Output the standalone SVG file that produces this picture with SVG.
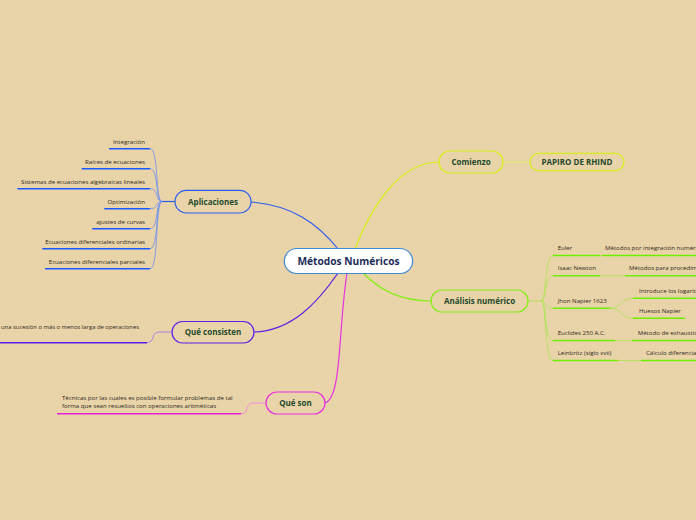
<svg xmlns="http://www.w3.org/2000/svg" width="696" height="520" viewBox="0 0 696 520">
<style>
.nt{font-family:"Open Sans","Noto Sans","Liberation Sans",sans-serif;font-weight:bold;font-size:8px;fill:#1f4a2c;text-anchor:middle}
.ct{font-family:"Open Sans","Noto Sans","Liberation Sans",sans-serif;font-weight:bold;font-size:10.2px;fill:#1c2c58;text-anchor:middle}
.lt{font-family:"Open Sans","Noto Sans","Liberation Sans",sans-serif;font-size:6.1px;fill:#2d2a24}
.r{text-anchor:end}
.fc{fill:none}
.bl{stroke:#2a5cf0;stroke-width:1.2}
.blt{stroke:#6d8ef0;stroke-width:0.8}
.blu{stroke:#1c58ff;stroke-width:1.5}
.pu{stroke:#5a22e6}
.mg{stroke:#e632de}
.ye{stroke:#d6ef1c}
.gr{stroke:#84ee18}
.grt{stroke:#a8e650;stroke-width:0.8}
.gru{stroke:#6fef00;stroke-width:1.5}
</style>
<rect x="0" y="0" width="696" height="520" fill="#E9D3A8"/>
<g id="connectors" class="fc">
<path class="bl" d="M251,202 C292,205 318,224 338,249"/>
<path class="ye" stroke-width="1.2" d="M355,249 C372,205 400,162 439,162"/>
<path class="gr" stroke-width="1.2" d="M363,273 C380,290 400,301 431,301"/>
<path class="pu" stroke-width="1.2" d="M338,273 C318,302 292,331 254,332"/>
<path class="mg" stroke-width="1.2" d="M347,273 C338,330 342,398 325,403"/>
<path stroke="#e3ef6a" stroke-width="1" d="M503,162 H530"/>
<path class="bl" stroke-width="2" d="M162,201.5 H175"/>
<path class="blt" d="M150,148.7 C159,148.7 155,201.5 162,201.5"/>
<path class="blt" d="M150,168.7 C159,168.7 155,201.5 162,201.5"/>
<path class="blt" d="M150,188.7 C159,188.7 155,201.5 162,201.5"/>
<path class="blt" d="M150,208.7 C159,208.7 155,201.5 162,201.5"/>
<path class="blt" d="M150,228.7 C159,228.7 155,201.5 162,201.5"/>
<path class="blt" d="M150,248.7 C159,248.7 155,201.5 162,201.5"/>
<path class="blt" d="M150,268.7 C159,268.7 155,201.5 162,201.5"/>
<path stroke="#9a70f0" stroke-width="0.8" d="M147,342.7 C155,342.7 151,332 159,332 H172"/>
<path stroke="#ee80e6" stroke-width="0.8" d="M241,413.7 C249,413.7 245,403 253,403 H266"/>
<path class="grt" d="M528,301 H541"/>
<path class="grt" d="M541,301 C547,301 544,255.5 553,255.5"/>
<path class="grt" d="M541,301 C547,301 544,275.7 553,275.7"/>
<path class="grt" d="M541,301 C547,301 544,308.3 553,308.3"/>
<path class="grt" d="M541,301 C547,301 544,340.5 553,340.5"/>
<path class="grt" d="M541,301 C547,301 544,360.5 553,360.5"/>
<path class="grt" d="M600,255.5 H602"/>
<path class="grt" d="M600,275.7 H625"/>
<path class="grt" d="M610,308.3 C622,308.3 620,298.3 633,298.3"/>
<path class="grt" d="M610,308.3 C622,308.3 620,318.3 633,318.3"/>
<path class="grt" d="M615,340.5 H632"/>
<path class="grt" d="M618,360.5 H641"/>
</g>
<g id="center">
<rect x="284.3" y="248.5" width="128.4" height="25" rx="12.5" fill="#ffffff" stroke="#3f8ad2" stroke-width="1.2"/>
<text class="ct" x="348.5" y="264.8">Métodos Numéricos</text>
</g>
<g id="aplicaciones">
<rect x="175" y="190.3" width="76" height="22.7" rx="11.3" fill="none" class="bl"/>
<text class="nt" x="213" y="204.5">Aplicaciones</text>
</g>
<g id="ap-integracion"><text class="lt r" x="145" y="143.6">Integración</text><path class="blu" d="M109,148.7 H150"/></g>
<g id="ap-raices"><text class="lt r" x="145" y="163.6">Raíces de ecuaciones</text><path class="blu" d="M81.7,168.7 H150"/></g>
<g id="ap-sistemas"><text class="lt r" x="145" y="183.6">Sistemas de ecuaciones algebraicas lineales</text><path class="blu" d="M17.3,188.7 H150"/></g>
<g id="ap-optimizacion"><text class="lt r" x="145" y="203.6">Optimización</text><path class="blu" d="M104.3,208.7 H150"/></g>
<g id="ap-ajustes"><text class="lt r" x="145" y="223.6">ajustes de curvas</text><path class="blu" d="M92.3,228.7 H150"/></g>
<g id="ap-ordinarias"><text class="lt r" x="145" y="243.6">Ecuaciones diferenciales ordinarias</text><path class="blu" d="M42.3,248.7 H150"/></g>
<g id="ap-parciales"><text class="lt r" x="145" y="263.6">Ecuaciones diferenciales parciales</text><path class="blu" d="M45,268.7 H150"/></g>
<g id="que-consisten">
<rect x="172" y="321.5" width="82" height="21.5" rx="10.7" fill="none" class="pu" stroke-width="1.2"/>
<text class="nt" x="213" y="335.2">Qué consisten</text>
</g>
<g id="qc-leaf"><text class="lt" x="1" y="329" textLength="138" lengthAdjust="spacingAndGlyphs">una sucesión o más o menos larga de operaciones</text><path stroke="#5a1ee8" stroke-width="1.5" d="M0,342.7 H147"/></g>
<g id="que-son">
<rect x="266" y="392" width="59" height="22" rx="11" fill="none" class="mg" stroke-width="1.2"/>
<text class="nt" x="295.5" y="406">Qué son</text>
</g>
<g id="qs-leaf"><text class="lt" x="62" y="399.7">Técnicas por las cuales es posible formular problemas de tal</text><text class="lt" x="62" y="407.7">forma que sean resueltos con operaciones aritméticas</text><path stroke="#e820d8" stroke-width="1.5" d="M57,413.7 H241"/></g>
<g id="comienzo">
<rect x="439" y="151" width="64" height="22" rx="11" fill="none" class="ye" stroke-width="1.2"/>
<text class="nt" x="471" y="165">Comienzo</text>
</g>
<g id="papiro">
<rect x="530" y="153.3" width="94" height="17.4" rx="8.7" fill="none" class="ye" stroke-width="1.2"/>
<text class="nt" x="577" y="165">PAPIRO DE RHIND</text>
</g>
<g id="analisis">
<rect x="431" y="290" width="97" height="22" rx="11" fill="none" class="gr" stroke-width="1.2"/>
<text class="nt" x="479.5" y="304">Análisis numérico</text>
</g>
<g id="an-euler"><text class="lt" x="557.7" y="249.5">Euler</text><path class="gru" d="M553,255.5 H600"/></g>
<g id="an-euler-c"><text class="lt" x="605" y="249.5">Métodos por integración numérica</text><path class="gru" d="M602,255.5 H696"/></g>
<g id="an-newton"><text class="lt" x="557.7" y="270">Isaac Newton</text><path class="gru" d="M553,275.7 H600"/></g>
<g id="an-newton-c"><text class="lt" x="629" y="270">Métodos para procedimientos</text><path class="gru" d="M625,275.7 H696"/></g>
<g id="an-napier"><text class="lt" x="557.7" y="303">Jhon Napier 1623</text><path class="gru" d="M553,308.3 H610"/></g>
<g id="an-napier-c1"><text class="lt" x="639" y="293">Introduce los logaritmos</text><path class="gru" d="M633,298.3 H696"/></g>
<g id="an-napier-c2"><text class="lt" x="639" y="313">Huesos Napier</text><path class="gru" d="M633,318.3 H685"/></g>
<g id="an-euclides"><text class="lt" x="557.7" y="334.5">Euclides 250 A.C.</text><path class="gru" d="M553,340.5 H615"/></g>
<g id="an-euclides-c"><text class="lt" x="637.7" y="334.5">Método de exhaustión</text><path class="gru" d="M632,340.5 H696"/></g>
<g id="an-leibniz"><text class="lt" x="557.7" y="355">Leinbritz (siglo xvii)</text><path class="gru" d="M553,360.5 H618"/></g>
<g id="an-leibniz-c"><text class="lt" x="646" y="355">Cálculo diferencial</text><path class="gru" d="M641,360.5 H696"/></g>
</svg>
